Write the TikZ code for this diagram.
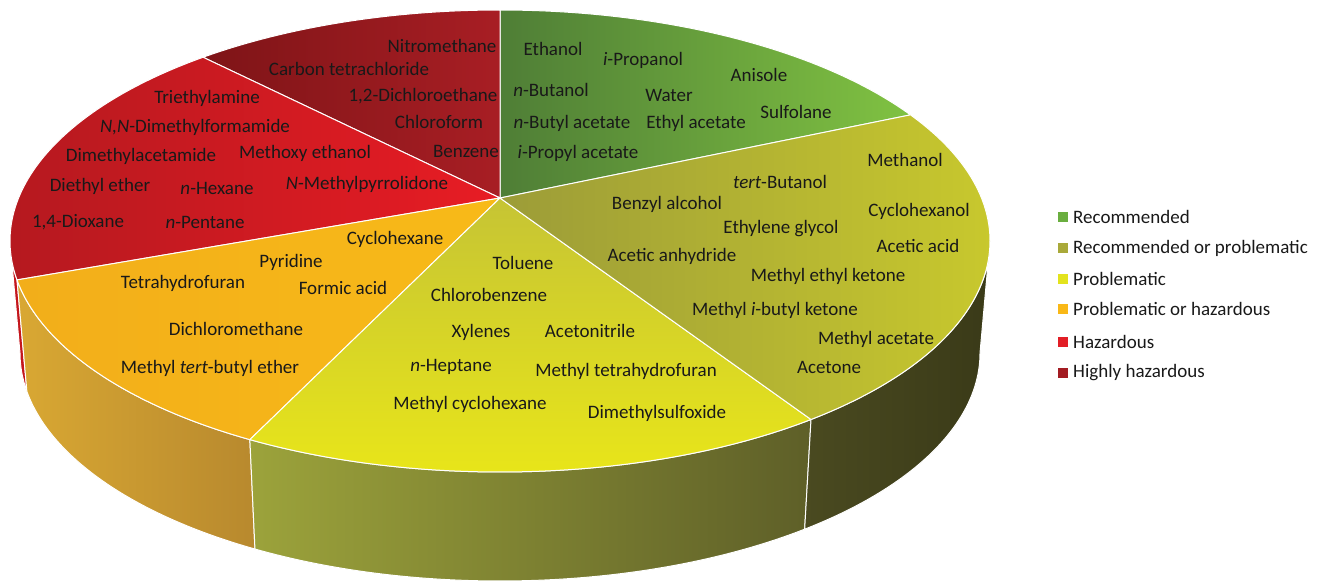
\documentclass[tikz,border=0pt]{standalone}
\usepackage{fontspec}
\setmainfont{Carlito}
\usetikzlibrary{calc}

\definecolor{grnL}{HTML}{4F7E36}
\definecolor{grnR}{HTML}{80C242}
\definecolor{olvL}{HTML}{9C9C38}
\definecolor{olvR}{HTML}{CDCD2C}
\definecolor{ylwT}{HTML}{C6C434}
\definecolor{ylwB}{HTML}{EAE718}
\definecolor{orgL}{HTML}{F2AE1A}
\definecolor{orgR}{HTML}{F8BA18}
\definecolor{redL}{HTML}{B3191F}
\definecolor{redR}{HTML}{E81C24}
\definecolor{dredL}{HTML}{7E1417}
\definecolor{dredR}{HTML}{A81E24}
\definecolor{redside}{HTML}{C4161C}
\definecolor{orgsideL}{HTML}{D9A833}
\definecolor{orgsideR}{HTML}{B8892E}
\definecolor{ylwsideL}{HTML}{9CA33B}
\definecolor{ylwsideR}{HTML}{5E5F28}
\definecolor{olvsideL}{HTML}{4A4A20}
\definecolor{olvsideR}{HTML}{3A3A18}
\definecolor{keygrn}{HTML}{6AAE3F}
\definecolor{keyolv}{HTML}{A9A93A}
\definecolor{keyylw}{HTML}{E3E31E}
\definecolor{keyorg}{HTML}{F9B817}
\definecolor{keyred}{HTML}{E21E26}
\definecolor{keydred}{HTML}{A31C22}

\newcommand{\slicetop}[3]{\path[#3] (apex) -- ($(topc)+(#1:490 and 231)$)
  arc[start angle=#1,end angle=#2,x radius=490,y radius=231] -- cycle;}
\newcommand{\sliceside}[3]{\path[#3] ($(topc)+(#1:490 and 231)$)
  arc[start angle=#1,end angle=#2,x radius=490,y radius=231]
  -- ($(botc)+(#2:480 and 228)$)
  arc[start angle=#2,end angle=#1,x radius=480,y radius=228] -- cycle;}

\tikzset{
  lbl/.style={inner sep=0pt, font=\fontsize{19}{23}\selectfont, text=black!90},
  key/.style={minimum size=9.5pt, inner sep=0pt, outer sep=0pt},
  keytext/.style={lbl, anchor=west},
  rim/.style={draw=white, line width=1pt, line join=round}
}

\begin{document}
\begin{tikzpicture}[x=1pt,y=1pt]
\useasboundingbox (0,0) rectangle (1317,-581);
\coordinate (apex) at (500,-198);
\coordinate (topc) at (500,-241);
\coordinate (botc) at (500,-353);

\sliceside{180}{189.7}{fill=redside,rim}
\sliceside{189.7}{239.3}{left color=orgsideL,right color=orgsideR,rim}
\sliceside{239.3}{309.4}{left color=ylwsideL,right color=ylwsideR,rim}
\sliceside{309.4}{360}{left color=olvsideL,right color=olvsideR,rim}

\slicetop{33.1}{90}{left color=grnL,right color=grnR,rim}
\slicetop{90}{127.3}{left color=dredL,right color=dredR,rim}
\slicetop{127.3}{189.7}{left color=redL,right color=redR,rim}
\slicetop{189.7}{239.3}{left color=orgL,right color=orgR,rim}
\slicetop{239.3}{309.4}{top color=ylwT,bottom color=ylwB,rim}
\slicetop{309.4}{393.1}{left color=olvL,right color=olvR,rim}

\node[lbl] (nitro) at (442,-46) {Nitromethane};
\node[lbl] (ccl4) at (349,-69) {Carbon tetrachloride};
\node[lbl] (dce) at (423,-96) {1,2-Dichloroethane};
\node[lbl] (chcl3) at (439,-122) {Chloroform};
\node[lbl] (benz) at (466,-151) {Benzene};

\node[lbl] (tea) at (207,-98) {Triethylamine};
\node[lbl] (dmf) at (195,-127) {\textit{N,N}-Dimethylformamide};
\node[lbl] (dmac) at (141,-156) {Dimethylacetamide};
\node[lbl] (meoet) at (305,-153) {Methoxy ethanol};
\node[lbl] (et2o) at (100,-186) {Diethyl ether};
\node[lbl] (hex) at (217,-188) {\textit{n}-Hexane};
\node[lbl] (nmp) at (367,-184) {\textit{N}-Methylpyrrolidone};
\node[lbl] (diox) at (78,-222) {1,4-Dioxane};
\node[lbl] (pent) at (205,-222) {\textit{n}-Pentane};

\node[lbl] (chex) at (395,-239) {Cyclohexane};
\node[lbl] (pyr) at (291,-262) {Pyridine};
\node[lbl] (thf) at (183,-283) {Tetrahydrofuran};
\node[lbl] (hcooh) at (343,-288) {Formic acid};
\node[lbl] (dcm) at (236,-329) {Dichloromethane};
\node[lbl] (mtbe) at (210,-368) {Methyl \textit{tert}-butyl ether};

\node[lbl] (tol) at (523,-263) {Toluene};
\node[lbl] (phcl) at (489,-295) {Chlorobenzene};
\node[lbl] (xyl) at (481,-332) {Xylenes};
\node[lbl] (mecn) at (590,-331) {Acetonitrile};
\node[lbl] (hept) at (451,-367) {\textit{n}-Heptane};
\node[lbl] (methf) at (626,-371) {Methyl tetrahydrofuran};
\node[lbl] (mecy) at (470,-404) {Methyl cyclohexane};
\node[lbl] (dmso) at (657,-413) {Dimethylsulfoxide};

\node[lbl] (meoh) at (905,-160) {Methanol};
\node[lbl] (tbuoh) at (780,-182) {\textit{tert}-Butanol};
\node[lbl] (bnoh) at (667,-204) {Benzyl alcohol};
\node[lbl] (chexol) at (919,-211) {Cyclohexanol};
\node[lbl] (eg) at (781,-229) {Ethylene glycol};
\node[lbl] (acoh) at (918,-246) {Acetic acid};
\node[lbl] (ac2o) at (672,-256) {Acetic anhydride};
\node[lbl] (mek) at (828,-276) {Methyl ethyl ketone};
\node[lbl] (mibk) at (775,-310) {Methyl \textit{i}-butyl ketone};
\node[lbl] (meoac) at (876,-339) {Methyl acetate};
\node[lbl] (acet) at (829,-367) {Acetone};

\node[lbl] (etoh) at (553,-49) {Ethanol};
\node[lbl] (iproh) at (643,-60) {\textit{i}-Propanol};
\node[lbl] (anis) at (759,-75) {Anisole};
\node[lbl] (nbuoh) at (551,-90) {\textit{n}-Butanol};
\node[lbl] (water) at (669,-95) {Water};
\node[lbl] (sulf) at (796,-112) {Sulfolane};
\node[lbl] (nbuac) at (572,-123) {\textit{n}-Butyl acetate};
\node[lbl] (etac) at (696,-123) {Ethyl acetate};
\node[lbl] (iprac) at (578,-153) {\textit{i}-Propyl acetate};

\node[key,fill=keygrn] (k1) at (1063,-217) {};
\node[key,fill=keyolv] (k2) at (1063,-248) {};
\node[key,fill=keyylw] (k3) at (1063,-279) {};
\node[key,fill=keyorg] (k4) at (1063,-309) {};
\node[key,fill=keyred] (k5) at (1063,-342) {};
\node[key,fill=keydred] (k6) at (1063,-373) {};
\node[keytext] (t1) at (1073,-217) {Recommended};
\node[keytext] (t2) at (1073,-248) {Recommended or problematic};
\node[keytext] (t3) at (1073,-279) {Problematic};
\node[keytext] (t4) at (1073,-309) {Problematic or hazardous};
\node[keytext] (t5) at (1073,-342) {Hazardous};
\node[keytext] (t6) at (1073,-373) {Highly hazardous};
\end{tikzpicture}
\end{document}
